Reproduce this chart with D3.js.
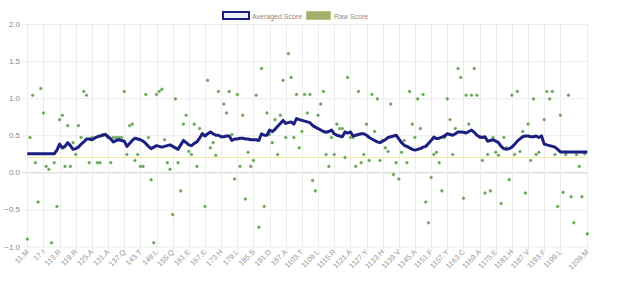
<!DOCTYPE html>
<html>
<head>
<meta charset="utf-8">
<script src="https://cdn.jsdelivr.net/npm/d3@7"></script>
<style>
html,body{margin:0;padding:0;background:#fff;}
svg{display:block;font-family:"Liberation Sans",Arial,sans-serif;}
</style>
</head>
<body>
<svg id="chart" width="624" height="281"></svg>
<script>
// ---- data ----
const tickLabels = ["11.M","17.I","113.R","119.R","125.A","131.A","137.Q","143.T","149.L","155.Q","161.E","167.E","173.H","179.L","185.S","191.D","197.A","1103.T","1109.L","1115.R","1121.A","1127.Y","1133.H","1139.V","1145.A","1151.F","1157.Y","1163.C","1169.A","1175.E","1181.H","1187.V","1193.F","1199.L","1209.M"];
const yTicks = [2.0, 1.5, 1.0, 0.5, 0, -0.5, -1.0];
const threshold = 0.2;
const rawScore = [
-0.90,0.47,1.04,0.13,-0.40,1.13,0.80,0.08,0.04,-0.95,
0.13,-0.46,0.71,0.77,0.08,0.63,0.08,0.40,0.24,0.63,
0.47,1.09,1.04,0.13,0.47,0.47,0.13,0.13,0.51,0.51,
0.47,0.13,0.47,0.47,0.47,0.47,1.09,0.24,0.63,0.65,
0.16,0.24,0.08,0.08,1.05,0.47,-0.10,-0.95,1.05,1.09,
1.12,0.44,0.13,0.04,-0.57,0.99,0.13,-0.25,0.65,0.77,
0.28,0.24,0.65,0.08,0.59,0.52,-0.46,1.24,0.33,0.40,
0.23,1.09,0.48,0.92,0.80,1.09,0.51,-0.09,1.05,0.08,
0.77,-0.36,0.27,0.08,0.16,1.04,-0.74,1.40,-0.46,0.80,
0.51,0.40,0.71,0.24,0.77,1.24,0.47,1.60,1.28,0.47,
1.05,0.33,0.55,1.05,0.80,1.05,-0.11,-0.25,0.77,0.92,
1.09,0.24,0.08,0.47,0.24,0.65,0.59,0.59,0.20,1.28,
0.47,0.47,0.08,1.09,0.13,0.24,0.65,0.16,1.05,0.55,
0.99,0.16,0.43,0.33,0.28,0.92,-0.03,0.13,-0.09,0.27,
0.43,0.13,1.09,0.65,0.47,0.99,0.59,1.05,-0.40,-0.68,
-0.07,0.24,0.27,0.13,-0.25,0.47,0.99,0.71,0.24,0.59,
1.40,1.28,-0.35,1.04,0.65,1.04,1.40,1.04,0.47,0.16,
-0.28,0.24,-0.25,0.47,0.27,0.23,-0.42,0.47,0.33,-0.10,
1.04,0.24,1.09,0.28,0.55,-0.28,0.65,0.16,0.99,0.24,
0.27,0.49,0.71,1.09,0.99,1.09,0.24,-0.46,0.77,-0.27,
0.24,1.04,-0.33,-0.68,0.24,0.08,-0.33,0.25,-0.83
];
const averagedScore = [
0.25,0.25,0.25,0.25,0.25,0.25,0.25,0.25,0.25,0.25,
0.25,0.30,0.38,0.33,0.35,0.40,0.36,0.31,0.32,0.34,
0.38,0.41,0.45,0.45,0.44,0.46,0.48,0.49,0.50,0.51,
0.48,0.45,0.41,0.43,0.44,0.43,0.42,0.35,0.39,0.43,
0.46,0.45,0.44,0.42,0.39,0.35,0.32,0.34,0.36,0.35,
0.34,0.35,0.36,0.37,0.35,0.33,0.31,0.37,0.43,0.40,
0.37,0.36,0.39,0.41,0.46,0.52,0.49,0.52,0.545,0.52,
0.50,0.50,0.48,0.48,0.49,0.49,0.43,0.45,0.45,0.46,
0.46,0.45,0.45,0.44,0.44,0.44,0.43,0.52,0.50,0.50,
0.57,0.55,0.58,0.62,0.66,0.70,0.66,0.67,0.68,0.65,
0.725,0.71,0.70,0.69,0.68,0.67,0.63,0.61,0.59,0.57,
0.55,0.54,0.55,0.57,0.52,0.50,0.49,0.48,0.545,0.53,
0.545,0.49,0.50,0.51,0.52,0.52,0.50,0.47,0.45,0.43,
0.41,0.40,0.42,0.44,0.47,0.48,0.49,0.50,0.45,0.40,
0.365,0.35,0.33,0.31,0.30,0.31,0.32,0.34,0.35,0.39,
0.43,0.475,0.455,0.46,0.475,0.49,0.52,0.51,0.50,0.52,
0.545,0.545,0.54,0.53,0.55,0.57,0.54,0.50,0.48,0.47,
0.48,0.42,0.43,0.44,0.42,0.40,0.35,0.32,0.31,0.32,
0.34,0.38,0.42,0.45,0.48,0.49,0.49,0.48,0.48,0.49,
0.47,0.49,0.38,0.37,0.36,0.35,0.34,0.31,0.275,0.275,
0.275,0.275,0.275,0.275,0.275,0.275,0.275,0.275,0.275
];

// ---- layout ----
const svg = d3.select("#chart");
const plotL = 27.3, plotR = 587.3, plotT = 24, plotB = 246.5;
const n = rawScore.length;
const x = d3.scaleLinear().domain([0, n - 1]).range([plotL, plotR]);
const y = d3.scaleLinear().domain([-1, 2]).range([plotB, plotT]);
const tickIdx = tickLabels.map(l => parseInt(l.slice(1), 10) - 1);

// horizontal grid
const gy = svg.append("g");
yTicks.forEach(t => {
  gy.append("line")
    .attr("x1", plotL - 5).attr("x2", plotR)
    .attr("y1", y(t) + 0.5).attr("y2", y(t) + 0.5)
    .attr("stroke", t === 0 ? "#cfcfcf" : "#ececec").attr("stroke-width", 1);
  gy.append("text")
    .attr("x", 20).attr("y", y(t) + 3)
    .attr("text-anchor", "end").attr("font-size", 8).attr("fill", "#8a8a8a")
    .text(d3.format(".1f")(t));
});
// vertical grid + x labels
const gx = svg.append("g");
tickIdx.forEach((ti, k) => {
  const px = Math.round(x(ti)) + 0.5;
  gx.append("line")
    .attr("x1", px).attr("x2", px)
    .attr("y1", plotT).attr("y2", plotB + 5)
    .attr("stroke", "#ececec").attr("stroke-width", 1);
  gx.append("text")
    .attr("transform", `translate(${x(ti) + 2},${plotB + 6}) rotate(-45)`)
    .attr("text-anchor", "end").attr("font-size", 7.5).attr("fill", "#999")
    .text(tickLabels[k]);
});

// threshold line
svg.append("line")
  .attr("x1", plotL).attr("x2", plotR)
  .attr("y1", y(threshold)).attr("y2", y(threshold))
  .attr("stroke", "#f3eca0").attr("stroke-width", 1.2);

// raw points
svg.append("g").selectAll("circle").data(rawScore).join("circle")
  .attr("cx", (d, i) => x(i)).attr("cy", d => y(d))
  .attr("r", 1.3)
  .attr("fill", "#7a8a6a").attr("stroke", "#6cbf5c").attr("stroke-width", 0.8);

// averaged line
const line = d3.line().x((d, i) => x(i)).y(d => y(d));
svg.append("path").datum(averagedScore)
  .attr("d", line).attr("fill", "none")
  .attr("stroke", "#1a1f80").attr("stroke-width", 3)
  .attr("stroke-linejoin", "round");

// legend
const lg = svg.append("g");
lg.append("rect").attr("x", 223).attr("y", 12).attr("width", 26).attr("height", 7)
  .attr("fill", "#eef0fb").attr("stroke", "#1a1f80").attr("stroke-width", 2);
lg.append("text").attr("x", 252).attr("y", 18.5).attr("font-size", 7).attr("fill", "#8a8a8a").text("Averaged Score");
lg.append("rect").attr("x", 306.5).attr("y", 11.5).attr("width", 24).attr("height", 8)
  .attr("fill", "#a3b06c").attr("stroke", "#b6c28a").attr("stroke-width", 1);
lg.append("text").attr("x", 334).attr("y", 18.5).attr("font-size", 7).attr("fill", "#8a8a8a").text("Raw Score");
</script>
</body>
</html>
